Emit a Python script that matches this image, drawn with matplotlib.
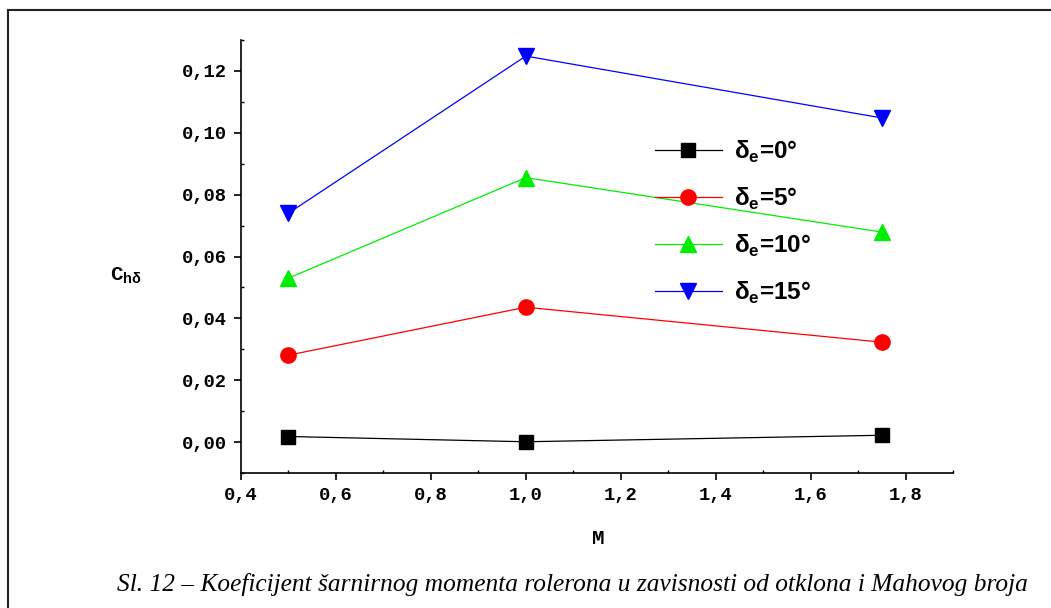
import numpy as np
import matplotlib
matplotlib.use('Agg')
import matplotlib.pyplot as plt
from matplotlib.ticker import MultipleLocator, FuncFormatter
from matplotlib.lines import Line2D

# Mach numbers and hinge moment coefficients for each deflection
mach = [0.5, 1.0, 1.75]
ch_d0 = [0.0018, 0.0001, 0.0022]
ch_d5 = [0.0281, 0.0436, 0.0323]
ch_d10 = [0.0530, 0.0855, 0.0679]
ch_d15 = [0.0740, 0.1248, 0.1048]

labels = [r'δ$_\mathbf{e}$=0°', r'δ$_\mathbf{e}$=5°',
          r'δ$_\mathbf{e}$=10°', r'δ$_\mathbf{e}$=15°']
colors = ['black', 'red', '#00ee00', 'blue']
markers = ['s', 'o', '^', 'v']
msizes = [9.5, 11, 11, 11]

caption = 'Sl. 12 – Koeficijent šarnirnog momenta rolerona u zavisnosti od otklona i Mahovog broja'

plt.rcParams['mathtext.fontset'] = 'custom'
plt.rcParams['mathtext.bf'] = 'Liberation Sans:bold'
plt.rcParams['mathtext.rm'] = 'Liberation Sans'

fig = plt.figure(figsize=(10.51, 6.08), dpi=100)
ax = fig.add_axes([241/1051, 1-473/608, (953-241)/1051, (473-40)/608])

series = [ch_d0, ch_d5, ch_d10, ch_d15]
for ys, c, m, ms, lab in zip(series, colors, markers, msizes, labels):
    ax.plot(mach, ys, color=c, lw=0.9, marker=m, markersize=ms,
            markerfacecolor=c, markeredgecolor=c, label=lab)

ax.set_xlim(0.4, 1.9)
ax.set_ylim(-0.01, 0.13)
ax.spines['top'].set_visible(False)
ax.spines['right'].set_visible(False)
for s in ['left', 'bottom']:
    ax.spines[s].set_linewidth(1.2)

ax.xaxis.set_major_locator(MultipleLocator(0.2))
ax.xaxis.set_minor_locator(MultipleLocator(0.1))
ax.yaxis.set_major_locator(MultipleLocator(0.02))
ax.yaxis.set_minor_locator(MultipleLocator(0.01))
ax.xaxis.set_major_formatter(FuncFormatter(lambda v, p: f'{v:.1f}'.replace('.', ',')))
ax.yaxis.set_major_formatter(FuncFormatter(lambda v, p: f'{v:.2f}'.replace('.', ',')))
ax.tick_params(which='major', direction='out', length=5, width=1.2, pad=5)
ax.tick_params(which='minor', direction='in', length=2.5, width=1.0)
for t in ax.get_xticklabels() + ax.get_yticklabels():
    t.set_fontfamily('Liberation Mono')
    t.set_fontweight('bold')
    t.set_fontsize(13.5)

leg = ax.legend(loc='upper left', bbox_to_anchor=(633/1051, 1-117/608),
                bbox_transform=fig.transFigure, frameon=False,
                prop={'family': 'Liberation Sans', 'weight': 'bold', 'size': 17.5},
                handlelength=2.75, handletextpad=0.5, labelspacing=0.85)

fig.text(598/1051, 1-538/608, 'M', family='Liberation Mono', weight='bold',
         fontsize=15, ha='center', va='center')
fig.text(126/1051, 1-276/608, r'C$_{\mathbf{h\delta}}$', family='Liberation Mono',
         weight='bold', fontsize=15, ha='center', va='center')

fig.text(572/1051, 1-584/608, caption, family='Liberation Serif', style='italic',
         fontsize=18.3, ha='center', va='center')

# page frame around the figure
fig.add_artist(Line2D([8/1051, 1.0], [1-10/608, 1-10/608], transform=fig.transFigure,
                      color='#222222', lw=1.5))
fig.add_artist(Line2D([8/1051, 8/1051], [0.0, 1-10/608], transform=fig.transFigure,
                      color='#222222', lw=1.5))

fig.savefig('out.png', dpi=100)
